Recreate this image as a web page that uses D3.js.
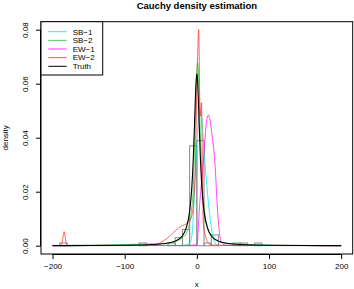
<!DOCTYPE html>
<html>
<head>
<meta charset="utf-8">
<script src="https://cdn.jsdelivr.net/npm/d3@7"></script>
<style>
  body { margin: 0; background: #fff; }
  text { font-family: "Liberation Sans", Arial, sans-serif; }
</style>
</head>
<body>
<svg id="chart" width="354" height="289"></svg>
<script>
// histogram of the sample (bin left edge, density), bins are 10 wide
const binStart = [-190, -80, -40, -30, -20, -10, 0, 10, 20, 50, 60, 80];
const binDensity = [0.001, 0.001, 0.001, 0.003, 0.006, 0.037, 0.039, 0.001, 0.004, 0.001, 0.001, 0.001];

// density curves
const sb1X = [-200, -100, -20, -12, -8, -5.6, -2.3, 0, 2, 4, 6, 8, 11.5, 16, 18.5, 20.5, 23, 25, 28, 35, 100, 200];
const sb1Y = [0, 0.00005, 0.0001, 0.0005, 0.002, 0.0077, 0.026, 0.038, 0.046, 0.05, 0.049, 0.043, 0.03, 0.016, 0.01, 0.006, 0.003, 0.0012, 0.0003, 0.0001, 0.00005, 0];

const sb2X = [-200, -150, -100, -60, -40, -30, -20, -15, -10, -7, -5, -3, -1, 0, 1, 2, 3, 5, 7, 10, 15, 20, 30, 40, 60, 100, 150, 200];
const sb2Y = [0.0001, 0.0002, 0.0004, 0.0007, 0.0009, 0.0015, 0.003, 0.0045, 0.0085, 0.014, 0.021, 0.039, 0.057, 0.0648, 0.0677, 0.0648, 0.0573, 0.0393, 0.0257, 0.0145, 0.0065, 0.0035, 0.0016, 0.0009, 0.0006, 0.0002, 0.0001, 0.00005];

const ew1X = [-200, -20, 0, 0.8, 2.2, 3.6, 6, 9, 12, 14, 16, 18, 21, 25, 28.5, 31.3, 34.6, 40, 100, 200];
const ew1Y = [0, 0.0001, 0.0003, 0.001, 0.0077, 0.014, 0.022, 0.031, 0.042, 0.047, 0.0484, 0.047, 0.041, 0.031, 0.014, 0.005, 0.001, 0.0002, 0.0001, 0];

const ew2X = [-200, -190, -187, -185, -184, -183, -181, -178, -100, -60, -50, -40, -32, -25, -20, -15, -11, -7, -4, -2, -1, 0, 1, 2, 2.5, 3, 4, 5, 6, 6.5, 7, 8, 9, 11.6, 16, 20, 40, 200];
const ew2Y = [0, 0.0001, 0.001, 0.004, 0.0052, 0.004, 0.001, 0.0001, 0.0001, 0.0003, 0.0012, 0.003, 0.005, 0.0066, 0.0075, 0.008, 0.0088, 0.011, 0.018, 0.03, 0.045, 0.058, 0.07, 0.078, 0.08, 0.075, 0.055, 0.048, 0.052, 0.053, 0.045, 0.02, 0.008, 0.004, 0.0009, 0.0003, 0.0001, 0];

const truthX = [-200, -150, -100, -60, -40, -30, -20, -15, -10, -7, -5, -3, -2, -1, 0, 1, 2, 3, 5, 7, 10, 15, 20, 30, 40, 60, 100, 150, 200];
const truthY = [0.00004, 0.00007, 0.00016, 0.00044, 0.00098, 0.0017, 0.0037, 0.0064, 0.0127, 0.0215, 0.0318, 0.0468, 0.0549, 0.0612, 0.0637, 0.0612, 0.0549, 0.0468, 0.0318, 0.0215, 0.0127, 0.0064, 0.0037, 0.0017, 0.00098, 0.00044, 0.00016, 0.00007, 0.00004];

const seriesNames = ["SB-1", "SB-2", "EW-1", "EW-2", "Truth"];
const seriesColors = ["rgba(0,230,230,0.85)", "rgba(40,200,40,0.85)", "rgba(255,0,255,0.8)", "rgba(255,40,40,0.8)", "#000"];

const xTicks = [-200, -100, 0, 100, 200];
const yTicks = [0, 0.02, 0.04, 0.06, 0.08];

const svg = d3.select("#chart");
const padL = 41, padR = 352.7, padT = 21.7, padB = 254;

const x = d3.scaleLinear().domain([-216, 216]).range([padL, padR]);
const y = d3.scaleLinear().domain([-0.00307, 0.08296]).range([padB, padT]);

// histogram bars
svg.append("g")
    .selectAll("rect")
    .data(binStart)
    .enter()
    .append("rect")
    .attr("x", d => x(d))
    .attr("y", (d, i) => y(binDensity[i]))
    .attr("width", d => x(d + 10) - x(d))
    .attr("height", (d, i) => y(0) - y(binDensity[i]))
    .attr("fill", "none")
    .attr("stroke", "#8c8c8c")
    .attr("stroke-width", 1);

const curves = [[sb1X, sb1Y], [sb2X, sb2Y], [ew1X, ew1Y], [ew2X, ew2Y], [truthX, truthY]];
const line = d3.line()
    .x(d => x(d[0]))
    .y(d => y(d[1]))
    .curve(d3.curveMonotoneX);

curves.forEach((c, i) => {
    svg.append("path")
        .attr("d", line(c[0].map((v, j) => [v, c[1][j]])))
        .attr("fill", "none")
        .attr("stroke", seriesColors[i])
        .attr("stroke-width", i === 4 ? 1.1 : 0.9);
});

// box
svg.append("rect")
    .attr("x", padL)
    .attr("y", padT)
    .attr("width", padR - padL)
    .attr("height", padB - padT)
    .attr("fill", "none")
    .attr("stroke", "#000")
    .attr("stroke-width", 1);

// axes
const xAxis = svg.append("g")
    .attr("transform", `translate(0,${padB})`)
    .call(d3.axisBottom(x).tickValues(xTicks).tickSize(5).tickPadding(4).tickFormat(d => d < 0 ? "\u2212" + Math.abs(d) : d));
xAxis.select(".domain").attr("d", `M${x(-200)},0.5H${x(200)}`);
xAxis.selectAll("text").attr("font-size", 8).attr("font-family", "Liberation Sans, Arial, sans-serif");

const yAxis = svg.append("g")
    .attr("transform", `translate(${padL},0)`)
    .call(d3.axisLeft(y).tickValues(yTicks).tickSize(5).tickFormat(d3.format(".2f")));
yAxis.select(".domain").attr("d", `M-0.5,${y(0)}V${y(0.08)}`);
yAxis.selectAll("text")
    .attr("font-size", 8)
    .attr("font-family", "Liberation Sans, Arial, sans-serif")
    .attr("transform", "rotate(-90)")
    .attr("x", 0)
    .attr("dy", 0)
    .attr("y", -13)
    .attr("text-anchor", "middle");

// titles
svg.append("text")
    .attr("x", (padL + padR) / 2)
    .attr("y", 9)
    .attr("text-anchor", "middle")
    .attr("font-size", 9.5)
    .attr("font-weight", "bold")
    .text("Cauchy density estimation");

svg.append("text")
    .attr("x", (padL + padR) / 2)
    .attr("y", 287)
    .attr("text-anchor", "middle")
    .attr("font-size", 8)
    .text("x");

svg.append("text")
    .attr("transform", `translate(8,${(padT + padB) / 2}) rotate(-90)`)
    .attr("text-anchor", "middle")
    .attr("font-size", 8)
    .text("density");

// legend
const legend = svg.append("g");
legend.append("rect")
    .attr("x", padL)
    .attr("y", padT)
    .attr("width", 102.7 - padL)
    .attr("height", 75 - padT)
    .attr("fill", "#fff")
    .attr("stroke", "#000")
    .attr("stroke-width", 1);

const rows = legend.selectAll("g.row")
    .data(seriesNames)
    .enter()
    .append("g")
    .attr("transform", (d, i) => `translate(0,${31.7 + i * 8.65})`);

rows.append("line")
    .attr("x1", 48.3)
    .attr("x2", 66.7)
    .attr("stroke", (d, i) => seriesColors[i])
    .attr("stroke-width", 1);

rows.append("text")
    .attr("x", 72.7)
    .attr("dy", "0.35em")
    .attr("font-size", 8)
    .text(d => d.replace("-", "\u2212"));
</script>
</body>
</html>
